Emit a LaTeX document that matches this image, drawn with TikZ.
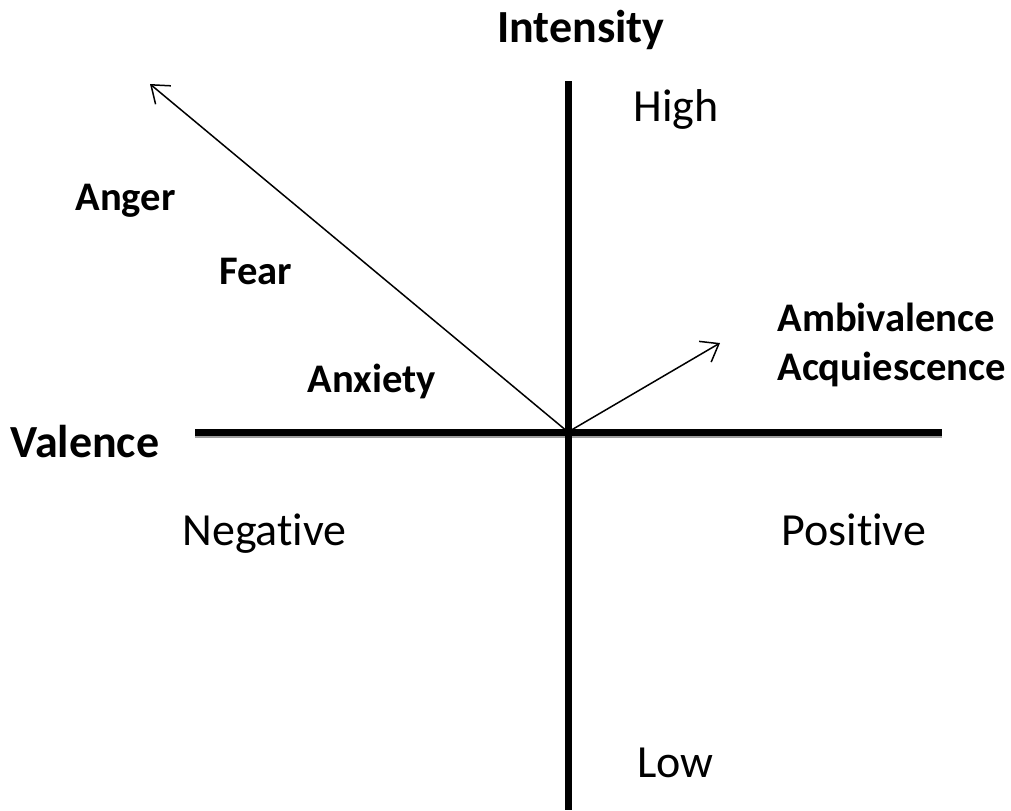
\documentclass[tikz,border=0pt]{standalone}
\usepackage{fontspec}
\setmainfont[Ligatures=NoCommon]{Carlito}
\usetikzlibrary{arrows.meta, positioning, calc}
\definecolor{shadowgray}{rgb}{0.62,0.62,0.62}

\begin{document}
\begin{tikzpicture}[
    x=0.5pt, y=-0.5pt,
    axis/.style={line width=3.5pt},
    vec/.style={-{Straight Barb[length=8pt, width=12pt, line width=0.75pt]}, line width=0.75pt},
    big/.style={font=\fontsize{23}{27}\selectfont, inner sep=0pt, anchor=base west},
    bigbold/.style={big, font=\fontsize{23}{27}\selectfont\bfseries},
    emo/.style={inner sep=0pt, anchor=base west, font=\fontsize{20.3}{24}\selectfont\bfseries}
]
    \useasboundingbox (0,0) rectangle (1011,810);

    % axes
    \coordinate (origin) at (568,432);
    \coordinate (vtop) at (568,81);
    \coordinate (vbot) at (568,810);
    \coordinate (hleft) at (195,432);
    \coordinate (hright) at (942,432);
    \fill[shadowgray] ($(hleft)+(0,2)$) rectangle ($(hright)+(0,6)$);
    \draw[axis] (hleft) -- (hright);
    \draw[axis] (vtop) -- (vbot);

    % emotion vectors
    \coordinate (angertip) at (150,84);
    \coordinate (ambtip) at (720,343);
    \draw[vec] (origin) -- (angertip);
    \draw[vec] (origin) -- (ambtip);

    % axis labels
    \node[bigbold] (intensity) at (497,42) {Intensity};
    \node[big] (high) at (633,121) {High};
    \node[big] (low) at (637,777) {Low};
    \node[bigbold] (valence) at (10,457) {Valence};
    \node[big] (negative) at (182,545) {Negative};
    \node[big] (positive) at (781,545) {Positive};

    % emotions
    \node[emo] (anger) at (75,210) {Anger};
    \node[emo] (fear) at (219,284) {Fear};
    \node[emo] (anxiety) at (307,392) {Anxiety};
    \node[emo] (ambivalence) at (777,331) {Ambivalence};
    \node[emo] (acquiescence) at (777,380) {Acquiescence};
\end{tikzpicture}
\end{document}
